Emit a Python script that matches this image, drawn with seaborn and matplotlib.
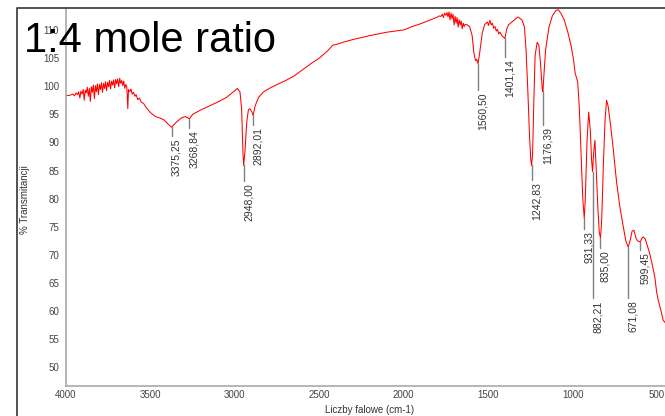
import numpy as np
import pandas as pd
import matplotlib
matplotlib.use("Agg")
import matplotlib.pyplot as plt
from matplotlib.lines import Line2D
from matplotlib.ticker import MultipleLocator
import seaborn as sns

# ---- data ----
wavenumber = [4000, 3975, 3960, 3950, 3940, 3932, 3925, 3918, 3912, 3905, 3898, 3892,
              3886, 3880, 3874, 3868, 3862, 3856, 3850, 3844, 3838, 3832, 3826, 3820,
              3814, 3808, 3802, 3796, 3790, 3784, 3778, 3772, 3766, 3760, 3754, 3748,
              3742, 3736, 3730, 3724, 3718, 3712, 3706, 3700, 3694, 3688, 3682, 3676,
              3670, 3664, 3658, 3652, 3646, 3640, 3634, 3630, 3622, 3615, 3608, 3600,
              3592, 3585, 3575, 3565, 3555, 3540, 3520, 3500,
              3470, 3440, 3420, 3400, 3375, 3350, 3320, 3295, 3280, 3269, 3250, 3200,
              3150, 3100, 3050, 3000, 2985, 2970, 2960, 2952, 2948, 2940, 2930, 2920,
              2912, 2900, 2892, 2880, 2860, 2830, 2790, 2750, 2700, 2650, 2600, 2550,
              2500, 2450, 2420, 2400, 2360, 2300, 2200, 2100, 2000, 1950, 1900, 1850,
              1800, 1790, 1780, 1772, 1765, 1758, 1750, 1744, 1738, 1732, 1726, 1720,
              1714, 1708, 1702, 1696, 1690, 1684, 1678, 1672, 1666, 1660, 1654, 1648,
              1642, 1636, 1625, 1610, 1595, 1585, 1575, 1568, 1560, 1550, 1535, 1520,
              1505, 1498, 1490, 1482, 1475, 1468, 1460, 1452, 1445, 1438, 1430, 1420,
              1401, 1390, 1380, 1360, 1340, 1325, 1300, 1285,
              1275, 1265, 1255, 1248, 1243, 1237, 1230, 1222, 1210, 1200, 1190, 1180,
              1176, 1170, 1160, 1140, 1120, 1100, 1085, 1070, 1050, 1030, 1010, 995,
              985, 970, 960, 950, 940, 931, 925, 915, 905, 895, 888, 882, 876, 868,
              860, 850, 842, 835, 828, 818, 808, 799, 790, 779, 760, 740, 720, 700,
              685, 671, 660, 648, 637, 625, 615, 599, 590, 582, 570, 556, 543, 530,
              513, 503, 493, 480, 464, 453]
transmittance = [98.3, 98.4, 98.6, 98.3, 98.8, 98.5, 99.0, 97.9, 99.1, 98.6, 99.4, 97.5,
                 99.3, 98.8, 99.8, 98.2, 99.6, 97.3, 99.9, 98.9, 100.2, 97.8, 100.1, 99.0,
                 100.4, 98.5, 100.3, 99.4, 100.6, 98.9, 100.5, 99.6, 100.8, 99.2, 100.7, 99.9,
                 101.0, 99.5, 100.9, 100.2, 101.1, 99.7, 101.2, 100.4, 101.3, 99.9, 101.4, 100.5,
                 101.0, 100.1, 100.9, 99.6, 100.3, 99.9, 96.0, 99.4, 99.0, 99.5, 98.6, 98.9,
                 98.2, 98.5, 97.6, 97.9, 97.2, 96.9, 96.0, 95.3,
                 94.6, 94.3, 94.0, 93.4, 92.7, 93.5, 94.3, 94.6, 94.4, 94.2, 95.0, 95.8,
                 96.5, 97.2, 98.0, 99.2, 99.6, 99.0, 96.0, 88.0, 85.9, 88.5, 93.5, 95.8,
                 96.0, 95.5, 94.8, 96.5, 98.0, 99.0, 99.7, 100.3, 101.0, 101.8, 102.9, 104.0,
                 105.0, 106.3, 107.3, 107.4, 107.8, 108.3, 109.0, 109.6, 110.0, 110.6, 111.1, 111.7,
                 112.3, 112.5, 112.4, 112.8, 112.2, 113.0, 112.6, 113.1, 112.3, 113.2, 111.8, 113.0,
                 112.0, 112.8, 110.9, 112.4, 111.2, 112.2, 110.5, 111.8, 110.9, 111.6, 110.2, 111.2,
                 110.6, 111.0, 110.9, 110.6, 109.0, 106.0, 104.5, 104.8, 104.0, 106.0, 109.5, 111.0,
                 111.4, 110.8, 111.7, 110.9, 111.2, 110.3, 110.6, 109.8, 110.1, 109.3, 109.6, 109.0,
                 108.5, 110.2, 110.9, 111.4, 111.9, 112.3, 111.8, 110.5,
                 106.0, 99.0, 91.0, 87.0, 85.9, 88.0, 97.0, 105.5, 107.8, 107.3, 104.0, 99.5,
                 99.0, 102.0, 106.5, 110.5, 112.5, 113.4, 113.6, 113.0, 111.8, 109.8, 107.3, 104.8,
                 102.3, 100.8, 96.0, 88.0, 80.0, 76.5, 80.0, 90.0, 95.4, 92.0, 87.0, 84.8, 88.0, 90.4,
                 85.0, 78.0, 74.0, 73.0, 76.0, 86.0, 94.0, 97.5, 96.5, 94.0, 89.0, 83.0, 78.5, 75.0,
                 72.5, 71.4, 72.5, 74.2, 74.4, 73.0, 72.5, 72.3, 73.0, 73.2, 72.8, 71.5, 70.2, 68.5,
                 66.0, 63.5, 61.9, 60.5, 58.4, 58.0]

peak_wn = [3375.25, 3268.84, 2948.00, 2892.01, 1560.50, 1401.14, 1242.83,
           1176.39, 931.33, 882.21, 835.00, 671.08, 599.45]
peak_t = [92.7, 94.2, 85.9, 94.8, 104.0, 108.5, 85.9,
          99.0, 76.5, 84.8, 73.0, 71.4, 72.3]
# where each label's leader line ends (layout)
label_end = [91.1, 92.5, 83.1, 93.1, 99.3, 105.2, 83.3,
             93.1, 74.6, 62.3, 71.2, 62.3, 70.8]

y_ticks = [50, 55, 60, 65, 70, 75, 80, 85, 90, 95, 100, 105, 110]
x_ticks = [4000, 3500, 3000, 2500, 2000, 1500, 1000, 500]

title = "1:4 mole ratio"
x_label = "Liczby falowe (cm-1)"
y_label = "% Transmitancji"

# ---- style ----
sns.set_theme(style="white")
plt.rcParams["font.family"] = ["Liberation Sans", "DejaVu Sans"]

W, H = 665, 416
fig = plt.figure(figsize=(W / 100, H / 100), dpi=100)
ax = fig.add_axes([66 / W, (H - 386) / H, (W - 66) / W, (386 - 8) / H])

df = pd.DataFrame({"wn": wavenumber, "t": transmittance})
sns.lineplot(data=df, x="wn", y="t", ax=ax, color="#ff0000", linewidth=0.75,
             estimator=None, sort=False)

ax.set_xlim(4000, 453)
ax.set_ylim(46.7, 113.9)
ax.set_xlabel("")
ax.set_ylabel("")

ax.set_xticks(x_ticks)
ax.set_yticks(y_ticks)
ax.xaxis.set_minor_locator(MultipleLocator(100))
ax.yaxis.set_minor_locator(MultipleLocator(1))
ax.tick_params(axis="both", which="major", labelsize=7, colors="#555555",
               labelcolor="#444444", length=3, width=0.8)
ax.tick_params(axis="both", which="minor", colors="#888888", length=1.5, width=0.6)
ax.tick_params(axis="x", which="both", direction="in", pad=3)
ax.tick_params(axis="y", which="both", direction="out", pad=2)

for s in ["top", "right"]:
    ax.spines[s].set_visible(False)
ax.spines["left"].set_color("#b0b0b0")
ax.spines["left"].set_linewidth(1.3)
ax.spines["bottom"].set_color("#b0b0b0")
ax.spines["bottom"].set_linewidth(1.3)

# peak markers and labels
for wn, t, end in zip(peak_wn, peak_t, label_end):
    ax.plot([wn, wn], [t, end], color="#808080", linewidth=1.0, zorder=3)
    ax.annotate(f"{wn:.2f}".replace(".", ","), xy=(wn, end), xytext=(3.6, -1.5),
                textcoords="offset points", rotation=90, ha="center", va="top",
                fontsize=7.5, color="#333333")

# outer frame (left and top edges)
fig.add_artist(Line2D([17 / W, 17 / W, 1.0], [0.0, 1 - 8 / H, 1 - 8 / H],
                      transform=fig.transFigure, color="#444444", linewidth=1.3))

fig.text(25 / W, (H - 200) / H, y_label, rotation=90, ha="center", va="center",
         fontsize=7, color="#333333")
fig.text(370 / W, (H - 410) / H, x_label, ha="center", va="center",
         fontsize=7, color="#333333")
fig.text(24 / W, (H - 52) / H, title, ha="left", va="baseline",
         fontsize=30, color="black")

fig.savefig("out.png", dpi=100)
